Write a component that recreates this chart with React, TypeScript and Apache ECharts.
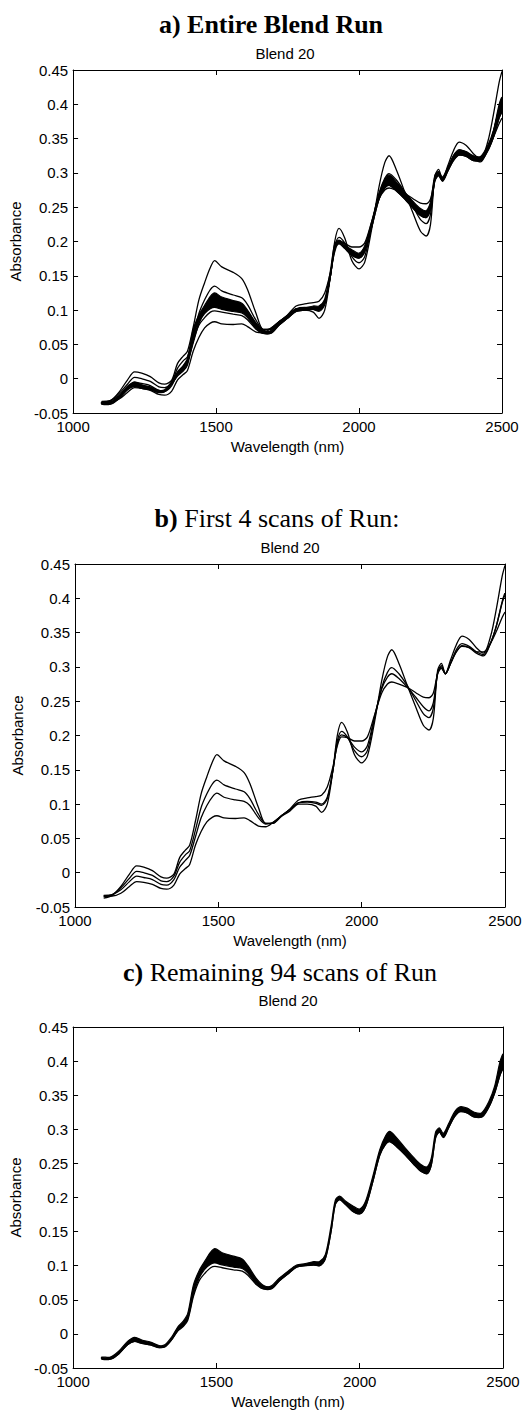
import React, { useEffect, useRef } from "react";
import * as echarts from "echarts";

// Wavelength grid (nm) shared by all spectra
const WAVELENGTHS = [
  1100, 1130, 1160, 1190, 1215, 1240, 1270, 1300, 1320, 1345,
  1365, 1385, 1400, 1420, 1440, 1460, 1480, 1495, 1520, 1560,
  1590, 1610, 1640, 1665, 1690, 1720, 1750, 1780, 1810, 1840,
  1860, 1880, 1900, 1915, 1930, 1950, 1975, 2000, 2020, 2045,
  2070, 2090, 2105, 2130, 2160, 2190, 2215, 2235, 2250, 2265,
  2278, 2292, 2310, 2330, 2350, 2375, 2400, 2425, 2450, 2470,
  2490, 2500,
];

// First four scans of the run
const SCAN_1 = [
  -0.037, -0.033, -0.02, -0.002, 0.01, 0.008, 0.003, -0.006, -0.008, -0.002,
  0.022, 0.033, 0.04, 0.075, 0.115, 0.14, 0.162, 0.172, 0.163, 0.155,
  0.146, 0.13, 0.095, 0.072, 0.072, 0.082, 0.09, 0.1, 0.1, 0.097,
  0.088, 0.1, 0.15, 0.2, 0.219, 0.205, 0.172, 0.16, 0.17, 0.22,
  0.28, 0.315, 0.325, 0.305, 0.272, 0.24, 0.215, 0.208, 0.225, 0.295,
  0.305, 0.29, 0.31, 0.332, 0.345, 0.34, 0.328, 0.32, 0.345, 0.385,
  0.432, 0.448,
];
const SCAN_2 = [
  -0.035, -0.032, -0.022, -0.008, 0.002, 0.0, -0.004, -0.012, -0.013, -0.005,
  0.015, 0.026, 0.032, 0.062, 0.095, 0.115, 0.13, 0.135, 0.128, 0.122,
  0.118, 0.108, 0.085, 0.072, 0.072, 0.083, 0.092, 0.102, 0.103, 0.101,
  0.098, 0.108, 0.15, 0.192, 0.206, 0.198, 0.178, 0.169, 0.178, 0.225,
  0.27, 0.292, 0.299, 0.29, 0.272, 0.25, 0.232, 0.226, 0.24, 0.292,
  0.302, 0.29, 0.305, 0.325, 0.334, 0.33, 0.322, 0.318, 0.335, 0.36,
  0.395, 0.408,
];
const SCAN_3 = [
  -0.033, -0.032, -0.025, -0.013, -0.005, -0.007, -0.01, -0.017, -0.018, -0.01,
  0.008, 0.018, 0.025, 0.052, 0.08, 0.098, 0.111, 0.116, 0.11, 0.106,
  0.104, 0.098, 0.08, 0.071, 0.073, 0.083, 0.092, 0.102, 0.104, 0.103,
  0.1, 0.11, 0.15, 0.188, 0.201, 0.197, 0.183, 0.176, 0.185, 0.228,
  0.268, 0.285, 0.29, 0.283, 0.27, 0.255, 0.242, 0.236, 0.248, 0.29,
  0.3, 0.29, 0.305, 0.322, 0.331, 0.328, 0.32, 0.316, 0.335, 0.36,
  0.393, 0.405,
];
const SCAN_4 = [
  -0.034, -0.034, -0.03, -0.02, -0.013, -0.014, -0.017, -0.023, -0.024, -0.018,
  -0.002, 0.006, 0.012, 0.04, 0.06, 0.074, 0.081, 0.083, 0.08, 0.079,
  0.08, 0.076, 0.068, 0.067, 0.073, 0.083, 0.093, 0.106, 0.109, 0.111,
  0.113, 0.125, 0.155, 0.185, 0.198, 0.197, 0.192, 0.192, 0.198, 0.23,
  0.262, 0.275, 0.278, 0.275, 0.27, 0.262, 0.256, 0.255, 0.262, 0.29,
  0.298, 0.29, 0.305, 0.322, 0.33, 0.328, 0.322, 0.322, 0.335, 0.352,
  0.372, 0.38,
];

// Envelope of the remaining 94 scans (lower and upper edge)
const REST_LOW = [
  -0.037, -0.037, -0.029, -0.016, -0.011, -0.014, -0.016, -0.02, -0.019, -0.008,
  0.005, 0.012, 0.022, 0.058, 0.082, 0.095, 0.102, 0.104, 0.101, 0.098,
  0.096, 0.089, 0.073, 0.066, 0.066, 0.078, 0.088, 0.098, 0.1, 0.101,
  0.1, 0.11, 0.15, 0.19, 0.197, 0.19, 0.18, 0.176, 0.186, 0.222,
  0.262, 0.278, 0.282, 0.274, 0.262, 0.248, 0.238, 0.235, 0.248, 0.288,
  0.296, 0.288, 0.302, 0.318, 0.326, 0.324, 0.318, 0.318, 0.332, 0.352,
  0.38, 0.39,
];
const REST_HIGH = [
  -0.034, -0.034, -0.025, -0.011, -0.005, -0.009, -0.012, -0.017, -0.016, -0.004,
  0.01, 0.019, 0.03, 0.072, 0.093, 0.107, 0.12, 0.125, 0.119, 0.114,
  0.11, 0.1, 0.081, 0.071, 0.07, 0.082, 0.092, 0.101, 0.103, 0.106,
  0.106, 0.116, 0.158, 0.196, 0.202, 0.195, 0.188, 0.183, 0.194, 0.23,
  0.27, 0.29, 0.297, 0.287, 0.272, 0.258, 0.248, 0.245, 0.258, 0.296,
  0.302, 0.294, 0.308, 0.325, 0.333, 0.331, 0.325, 0.324, 0.34, 0.362,
  0.4, 0.41,
];
// One scan of the remaining set that sits just under the others near 1500 nm
const REST_LOWEST = [
  -0.037, -0.037, -0.029, -0.016, -0.011, -0.014, -0.016, -0.02, -0.019, -0.008,
  0.004, 0.011, 0.02, 0.055, 0.078, 0.089, 0.097, 0.099, 0.097, 0.094,
  0.092, 0.086, 0.072, 0.066, 0.066, 0.078, 0.088, 0.098, 0.1, 0.101,
  0.1, 0.11, 0.15, 0.19, 0.197, 0.19, 0.18, 0.176, 0.186, 0.222,
  0.262, 0.278, 0.282, 0.274, 0.262, 0.248, 0.238, 0.235, 0.248, 0.288,
  0.296, 0.288, 0.302, 0.318, 0.326, 0.324, 0.318, 0.318, 0.332, 0.352,
  0.38, 0.39,
];

const X_TICKS = { min: 1000, max: 2500, interval: 500 };
const Y_TICKS = { min: -0.05, max: 0.45, interval: 0.05 };

const SANS = "'Liberation Sans', Arial, sans-serif";
const SERIF = "'Liberation Serif', 'Times New Roman', serif";

const pairs = (ys: number[]) => WAVELENGTHS.map((w, i) => [w, ys[i]]);

// Plot rectangles for the three panels (pixels)
const PANELS = [
  { left: 69, right: 28, top: 70, height: 343 },
  { left: 75, right: 25, top: 564, height: 343 },
  { left: 73, right: 27, top: 1027, height: 341 },
];

function scanLine(name: string, ys: number[], g: number, z = 5) {
  return {
    name,
    type: "line",
    xAxisIndex: 2 * g,
    yAxisIndex: 2 * g,
    data: pairs(ys),
    smooth: 0.3,
    symbol: "none",
    z,
    lineStyle: { color: "#000", width: 1.3 },
  };
}

// Filled envelope of the 94 remaining scans, drawn through the axis scales
function band(g: number) {
  return {
    name: "remaining scans",
    type: "custom",
    xAxisIndex: 2 * g,
    yAxisIndex: 2 * g,
    data: [[WAVELENGTHS[0], REST_LOW[0]]],
    z: 3,
    renderItem: (_params: any, api: any) => {
      const top = WAVELENGTHS.map((w, i) => api.coord([w, REST_HIGH[i]]));
      const bottom = WAVELENGTHS.map((w, i) => api.coord([w, REST_LOW[i]])).reverse();
      return {
        type: "polygon",
        shape: { points: top.concat(bottom), smooth: 0.3 },
        style: { fill: "#000", stroke: "#000", lineWidth: 1.2 },
      };
    },
  };
}

export default function App() {
  const ref = useRef<HTMLDivElement>(null);

  useEffect(() => {
    if (!ref.current) return;
    const chart = echarts.init(ref.current, undefined, { renderer: "svg" });

    const grid = PANELS.map((p) => ({ ...p, containLabel: false }));
    const xAxis: any[] = [];
    const yAxis: any[] = [];
    const labelStyle = { color: "#000", fontFamily: SANS, fontSize: 15, lineHeight: 13 };
    PANELS.forEach((_, g) => {
      const lineCfg = { show: true, onZero: false, lineStyle: { color: "#000", width: 1 } };
      const tickCfg = { show: true, inside: true, length: 5, lineStyle: { color: "#000" } };
      xAxis.push({
        type: "value",
        gridIndex: g,
        position: "bottom",
        ...X_TICKS,
        name: "Wavelength (nm)",
        nameLocation: "middle",
        nameGap: 26,
        nameTextStyle: { color: "#000", fontFamily: SANS, fontSize: 15 },
        axisLine: lineCfg,
        axisTick: tickCfg,
        splitLine: { show: false },
        axisLabel: { ...labelStyle, margin: 7, formatter: (v: number) => String(v) },
      });
      xAxis.push({
        type: "value",
        gridIndex: g,
        position: "top",
        ...X_TICKS,
        axisLine: lineCfg,
        axisTick: tickCfg,
        splitLine: { show: false },
        axisLabel: { show: false },
      });
      yAxis.push({
        type: "value",
        gridIndex: g,
        position: "left",
        ...Y_TICKS,
        name: "Absorbance",
        nameLocation: "middle",
        nameGap: 44,
        nameTextStyle: { color: "#000", fontFamily: SANS, fontSize: 15 },
        axisLine: lineCfg,
        axisTick: tickCfg,
        splitLine: { show: false },
        axisLabel: { ...labelStyle, margin: 5 },
      });
      yAxis.push({
        type: "value",
        gridIndex: g,
        position: "right",
        ...Y_TICKS,
        axisLine: lineCfg,
        axisTick: tickCfg,
        splitLine: { show: false },
        axisLabel: { show: false },
      });
    });

    const series: any[] = [
      // a) whole run
      band(0),
      scanLine("remaining scans", REST_LOWEST, 0, 4),
      scanLine("scan 1", SCAN_1, 0),
      scanLine("scan 2", SCAN_2, 0),
      scanLine("scan 3", SCAN_3, 0),
      scanLine("scan 4", SCAN_4, 0),
      // b) first four scans
      scanLine("scan 1", SCAN_1, 1),
      scanLine("scan 2", SCAN_2, 1),
      scanLine("scan 3", SCAN_3, 1),
      scanLine("scan 4", SCAN_4, 1),
      // c) remaining scans
      band(2),
      scanLine("remaining scans", REST_LOWEST, 2, 4),
    ];

    const heading = (x: number, y: number, text: string) => ({
      type: "text",
      x,
      y,
      style: {
        text,
        align: "center",
        verticalAlign: "middle",
        fill: "#000",
        rich: {
          b: { fontFamily: SERIF, fontSize: 26, fontWeight: "bold", fill: "#000" },
          r: { fontFamily: SERIF, fontSize: 26, fill: "#000" },
        },
      },
    });
    const sub = (x: number, y: number) => ({
      type: "text",
      x,
      y,
      style: {
        text: "Blend 20",
        align: "center",
        verticalAlign: "middle",
        fill: "#000",
        fontFamily: SANS,
        fontSize: 15,
      },
    });

    chart.setOption({
      animation: false,
      backgroundColor: "#fff",
      grid,
      xAxis,
      yAxis,
      series,
      graphic: [
        heading(271, 24, "{b|a) Entire Blend Run}"),
        sub(285, 53),
        heading(277, 518, "{b|b)}{r| First 4 scans of Run:}"),
        sub(290, 547),
        heading(280, 972, "{b|c)}{r| Remaining 94 scans of Run}"),
        sub(288, 1000),
      ],
    });

    return () => chart.dispose();
  }, []);

  return (
    <div
      ref={ref}
      style={{ position: "absolute", left: 0, top: 0, width: 530, height: 1410, background: "#fff" }}
    />
  );
}
